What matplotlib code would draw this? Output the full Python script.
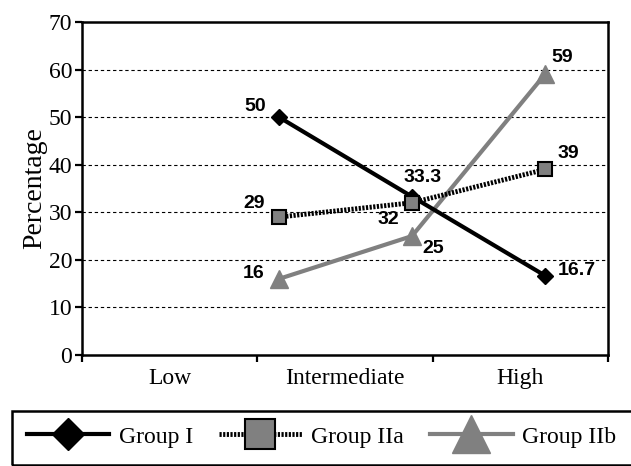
import matplotlib
matplotlib.use("Agg")
import matplotlib.pyplot as plt
from matplotlib.patches import Rectangle

# ---- data ----
categories = ["Low", "Intermediate", "High"]
series_names = ["Group I", "Group IIa", "Group IIb"]
group_i = [50, 33.3, 16.7]
group_iia = [29, 32, 39]
group_iib = [16, 25, 59]
labels_i = ["50", "33.3", "16.7"]
labels_iia = ["29", "32", "39"]
labels_iib = ["16", "25", "59"]
yticks = [0, 10, 20, 30, 40, 50, 60, 70]

SERIF = "Liberation Serif"
SANS = "Liberation Sans"
GRAY = "#808080"

fig = plt.figure(figsize=(6.31, 4.66), dpi=100)
W, H = 631, 466
ax = fig.add_axes([82 / W, 1 - 355 / H, 526 / W, 333 / H])
ax.set_facecolor("white")

# category axis
ax.set_xlim(-0.5, 2.5)
ax.set_xticks([-0.5, 0.5, 1.5, 2.5])
ax.set_xticklabels([])
ax.set_xticks(range(len(categories)), minor=True)
ax.set_xticklabels(categories, minor=True, fontsize=17, family=SERIF)
ax.tick_params(axis="x", which="major", direction="out", length=5, width=1.6)
ax.tick_params(axis="x", which="minor", length=0, pad=9.5)

ax.set_ylim(0, 70)
ax.set_yticks(yticks)
ax.set_yticklabels([str(v) for v in yticks], fontsize=17, family=SERIF)
ax.tick_params(axis="y", direction="out", length=5, width=1.6, pad=2)
ax.set_ylabel("Percentage", fontsize=20, family=SERIF, labelpad=1)

for v in yticks[1:-1]:
    ax.axhline(v, color="black", lw=0.8, ls=(0, (3, 2.5)), zorder=0)

for s in ax.spines.values():
    s.set_linewidth(1.8)
    s.set_color("black")

# data axis (points sit offset from the category centres in the original)
ax2 = ax.twiny()
ax2.set_xlim(-1.481, 2.474)
ax2.set_ylim(0, 70)
ax2.set_xticks([])
for s in ax2.spines.values():
    s.set_visible(False)

xs = list(range(len(categories)))
l1, = ax2.plot(xs, group_i, color="black", lw=3, marker="D", ms=8,
               mfc="black", mec="black", zorder=3)
l2, = ax2.plot(xs, group_iia, color="black", lw=3.5, ls=(0, (0.45, 0.3)),
               marker="s", ms=10.5, mfc=GRAY, mec="black", mew=1.5, zorder=4)
l3, = ax2.plot(xs, group_iib, color=GRAY, lw=3, marker="^", ms=13,
               mfc=GRAY, mec=GRAY, zorder=2)

lab_kw = dict(textcoords="offset points", fontsize=14, fontweight="bold",
              family=SANS, ha="center", va="center", color="black", zorder=6)
off_i = [(-24, 11), (11, 19), (32, 5)]
off_iia = [(-25, 14), (-24, -17), (23, 16)]
off_iib = [(-25, 5), (21, -12), (17, 17)]
for vals, labs, offs in [(group_i, labels_i, off_i),
                         (group_iia, labels_iia, off_iia),
                         (group_iib, labels_iib, off_iib)]:
    for x, y, t, (dx, dy) in zip(xs, vals, labs, offs):
        ax2.annotate(t, (x, y), xytext=(dx * 0.72, dy * 0.72), **lab_kw)

# legend box running off the right edge
fig.add_artist(Rectangle((12 / W, 1 - 465 / H), 1.0, 54 / H,
                         transform=fig.transFigure, fill=False,
                         ec="black", lw=1.8, clip_on=False))
fig.legend([l1, l2, l3], series_names, loc="center left",
           bbox_to_anchor=(15 / W, 1 - 437 / H), ncol=3, frameon=False,
           borderpad=0, handlelength=3.5, handletextpad=0.4,
           columnspacing=1.1, markerscale=2.1,
           prop={"family": SERIF, "size": 17})

fig.savefig("out.png", dpi=100)
